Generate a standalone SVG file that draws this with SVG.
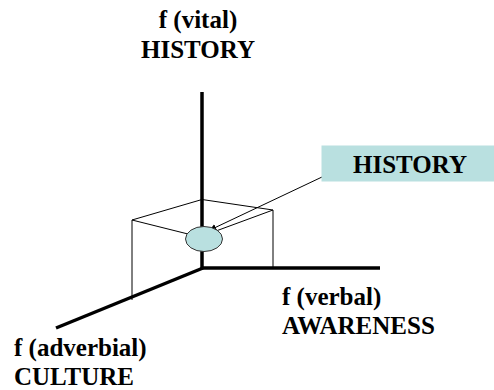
<svg xmlns="http://www.w3.org/2000/svg" width="494" height="390" viewBox="0 0 494 390">
<style>
text{font-family:'Liberation Serif','Times New Roman',Times,'DejaVu Serif',serif;font-weight:700;font-size:25px;fill:#000}
.axis{stroke:#000;stroke-width:3.5;fill:none;stroke-linecap:butt}
.thin{stroke:#000;stroke-width:1;fill:none}
</style>
<defs>
<marker id="ah" viewBox="0 0 10 10" refX="9" refY="5" markerWidth="7" markerHeight="7" orient="auto" markerUnits="userSpaceOnUse">
<path d="M0,0 L10,5 L0,10 z" fill="#000"/>
</marker>
</defs>
<g id="connectors">
<line class="axis" x1="202" y1="92" x2="202" y2="269"/>
<line class="axis" x1="202" y1="268" x2="380" y2="268"/>
<line class="axis" x1="203" y1="268" x2="56" y2="328"/>
<polyline class="thin" points="132,300 132,220 202,199.5 273,210 273,268"/>
<line class="thin" x1="132" y1="220" x2="188" y2="234"/>
<line class="thin" x1="273" y1="210" x2="216" y2="231"/>
<line class="thin" x1="322" y1="177" x2="210" y2="230" marker-end="url(#ah)"/>
</g>
<g id="point">
<ellipse cx="204" cy="239" rx="18.5" ry="12.5" fill="#b9e0e0" stroke="#333" stroke-width="1"/>
</g>
<g id="history-label">
<rect x="321.5" y="145.5" width="173" height="36" fill="#b9e0e0"/>
<text x="353" y="173">HISTORY</text>
</g>
<g id="axis-vital">
<text x="198" y="28" text-anchor="middle">f (vital)</text>
<text x="198" y="58" text-anchor="middle">HISTORY</text>
</g>
<g id="axis-verbal">
<text x="282" y="305">f (verbal)</text>
<text x="282" y="334">AWARENESS</text>
</g>
<g id="axis-adverbial">
<text x="14" y="356">f (adverbial)</text>
<text x="14" y="385">CULTURE</text>
</g>
</svg>
